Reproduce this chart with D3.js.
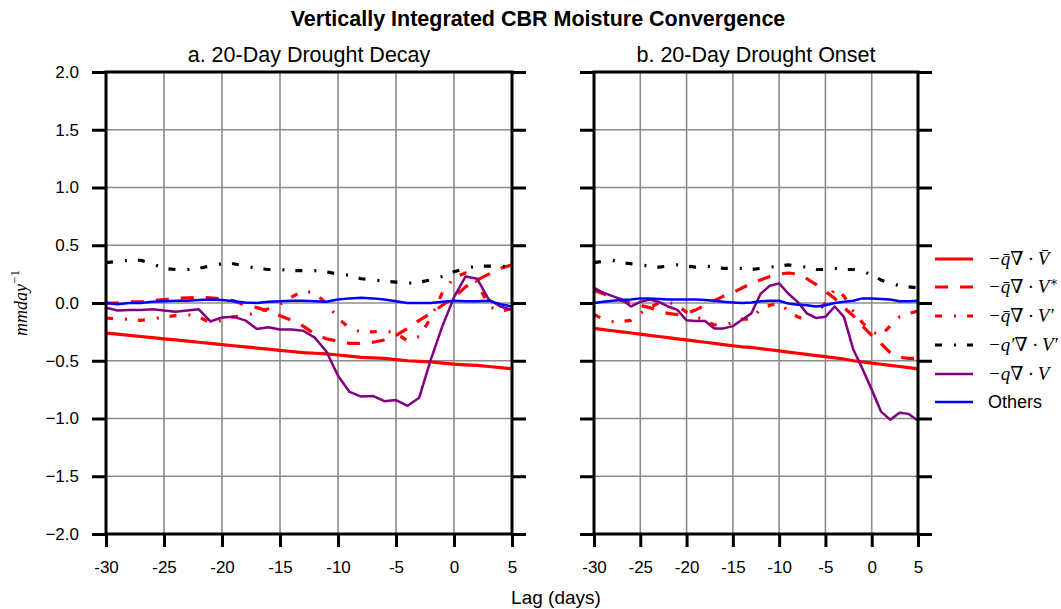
<!DOCTYPE html>
<html>
<head>
<meta charset="utf-8">
<script src="https://cdn.jsdelivr.net/npm/d3@7"></script>
<style>
  body { margin: 0; background: #fff; }
  text { font-family: "Liberation Sans", Arial, sans-serif; }
  .math { font-family: "Liberation Serif", "DejaVu Serif", serif; font-style: italic; }
</style>
</head>
<body>
<svg id="chart" width="1061" height="609"></svg>
<script>
// lag days -30 .. 5
const lags = d3.range(-30, 6)
const yTicks = [-2.0, -1.5, -1.0, -0.5, 0.0, 0.5, 1.0, 1.5, 2.0]
const xTicks = [-30, -25, -20, -15, -10, -5, 0, 5]

// a. 20-Day Drought Decay
const decayMean = [-0.26, -0.27, -0.28, -0.29, -0.30, -0.31, -0.32, -0.33, -0.34, -0.35, -0.36, -0.37, -0.38, -0.39, -0.40, -0.41, -0.42, -0.43,
  -0.435, -0.44, -0.45, -0.46, -0.47, -0.475, -0.48, -0.49, -0.50, -0.505, -0.51, -0.52, -0.53, -0.535, -0.54, -0.55, -0.56, -0.57]
const decayVstar = [0.0, 0.0, 0.01, 0.01, 0.02, 0.03, 0.04, 0.045, 0.05, 0.045, 0.035, 0.02, -0.02, -0.04, -0.07, -0.11, -0.15, -0.2,
  -0.27, -0.31, -0.33, -0.35, -0.35, -0.34, -0.32, -0.28, -0.22, -0.15, -0.09, -0.02, 0.05, 0.14, 0.2, 0.25, 0.3, 0.33]
const decayVprime = [-0.13, -0.14, -0.14, -0.15, -0.14, -0.12, -0.11, -0.10, -0.12, -0.17, -0.15, -0.12, -0.11, -0.08, -0.05, -0.01, 0.05, 0.11,
  0.08, 0.0, -0.13, -0.22, -0.25, -0.25, -0.24, -0.26, -0.33, -0.29, -0.13, 0.09, 0.22, 0.26, 0.18, -0.03, -0.07, -0.05]
const decayQpVp = [0.35, 0.36, 0.37, 0.37, 0.34, 0.30, 0.29, 0.29, 0.30, 0.32, 0.34, 0.34, 0.32, 0.30, 0.29, 0.29, 0.28, 0.28,
  0.28, 0.27, 0.25, 0.24, 0.21, 0.20, 0.19, 0.18, 0.17, 0.18, 0.20, 0.23, 0.27, 0.30, 0.32, 0.32, 0.32, 0.31]
const decayQdivV = [-0.04, -0.065, -0.06, -0.06, -0.055, -0.065, -0.075, -0.065, -0.055, -0.16, -0.125, -0.12, -0.15, -0.225, -0.21, -0.23, -0.23, -0.24,
  -0.30, -0.42, -0.63, -0.77, -0.81, -0.805, -0.85, -0.84, -0.89, -0.82, -0.49, -0.2, 0.05, 0.23, 0.21, 0.03, -0.03, -0.06]
const decayOthers = [0.0, -0.01, 0.0, 0.0, 0.01, 0.015, 0.02, 0.02, 0.025, 0.03, 0.025, 0.015, 0.005, 0.0, 0.01, 0.015, 0.02, 0.02,
  0.015, 0.01, 0.03, 0.04, 0.045, 0.04, 0.03, 0.015, 0.0, 0.0, 0.0, 0.01, 0.02, 0.015, 0.015, 0.02, -0.01, -0.03]

// b. 20-Day Drought Onset
const onsetMean = [-0.22, -0.23, -0.24, -0.25, -0.26, -0.27, -0.28, -0.29, -0.30, -0.31, -0.32, -0.33, -0.34, -0.35, -0.36, -0.37, -0.38, -0.385,
  -0.395, -0.405, -0.415, -0.425, -0.435, -0.445, -0.455, -0.465, -0.475, -0.485, -0.50, -0.51, -0.52, -0.53, -0.54, -0.55, -0.56, -0.57]
const onsetVstar = [0.11, 0.08, 0.05, 0.02, 0.0, -0.02, -0.04, -0.07, -0.09, -0.10, -0.09, -0.06, -0.02, 0.02, 0.06, 0.09, 0.13, 0.17,
  0.20, 0.23, 0.25, 0.26, 0.25, 0.21, 0.16, 0.10, 0.04, -0.04, -0.11, -0.20, -0.28, -0.35, -0.43, -0.47, -0.48, -0.48]
const onsetVprime = [-0.10, -0.14, -0.16, -0.16, -0.15, -0.09, -0.04, 0.0, 0.01, -0.02, -0.08, -0.12, -0.15, -0.19, -0.19, -0.17, -0.14, -0.14,
  -0.05, -0.02, 0.0, -0.07, -0.12, -0.15, -0.09, 0.0, 0.12, 0.06, -0.07, -0.17, -0.25, -0.28, -0.2, -0.12, -0.09, -0.07]
const onsetQpVp = [0.35, 0.36, 0.37, 0.35, 0.34, 0.33, 0.32, 0.31, 0.32, 0.33, 0.32, 0.31, 0.32, 0.31, 0.30, 0.30, 0.30, 0.29,
  0.30, 0.31, 0.32, 0.33, 0.32, 0.31, 0.29, 0.29, 0.30, 0.29, 0.29, 0.28, 0.24, 0.20, 0.17, 0.15, 0.14, 0.13]
const onsetQdivV = [0.13, 0.09, 0.06, 0.03, -0.03, 0.01, 0.03, 0.01, -0.03, -0.06, -0.15, -0.155, -0.156, -0.22, -0.22, -0.20, -0.145, -0.09,
  0.08, 0.15, 0.17, 0.08, 0.01, -0.09, -0.13, -0.12, -0.03, -0.12, -0.40, -0.57, -0.75, -0.94, -1.01, -0.95, -0.96, -1.02]
const onsetOthers = [0.0, 0.01, 0.02, 0.025, 0.03, 0.04, 0.04, 0.035, 0.03, 0.03, 0.03, 0.03, 0.025, 0.02, 0.01, 0.005, 0.0, 0.005,
  0.015, 0.02, 0.02, -0.005, -0.015, -0.02, -0.03, -0.02, 0.0, 0.01, 0.02, 0.04, 0.04, 0.035, 0.03, 0.015, 0.015, 0.02]

const styles = [
  { color: '#ff0000', width: 3.2, dash: null },
  { color: '#ff0000', width: 3.2, dash: '13,12' },
  { color: '#ff0000', width: 3.2, dash: '7,12,2,11' },
  { color: '#000000', width: 3.2, dash: '7,12,2,11' },
  { color: '#800080', width: 2.5, dash: null },
  { color: '#0000ff', width: 2.5, dash: null }
]

const svg = d3.select('#chart')

svg.append('text')
  .attr('x', 538).attr('y', 26)
  .attr('text-anchor', 'middle')
  .attr('font-size', 21.5).attr('font-weight', 'bold')
  .text('Vertically Integrated CBR Moisture Convergence')

const y = d3.scaleLinear().domain([-2, 2]).range([534, 72])

function panel(id, x0, x1, title, series, labels) {
  const x = d3.scaleLinear().domain([-30, 5]).range([x0, x1])
  const g = svg.append('g')

  g.append('clipPath').attr('id', 'clip' + id)
    .append('rect').attr('x', x0).attr('y', 72).attr('width', x1 - x0).attr('height', 534 - 72)

  // grid
  g.append('g').selectAll('line.gx')
    .data(xTicks.slice(1, -1))
    .join('line')
    .attr('x1', d => x(d)).attr('x2', d => x(d))
    .attr('y1', 72).attr('y2', 534)
    .attr('stroke', '#8c8c8c').attr('stroke-width', 1.6)
  g.append('g').selectAll('line.gy')
    .data(yTicks.slice(1, -1))
    .join('line')
    .attr('x1', x0).attr('x2', x1)
    .attr('y1', d => y(d)).attr('y2', d => y(d))
    .attr('stroke', '#8c8c8c').attr('stroke-width', 1.6)

  // data
  const line = d3.line().x((d, i) => x(lags[i])).y(d => y(d))
  const lg = g.append('g').attr('clip-path', `url(#clip${id})`)
  series.forEach((s, k) => {
    lg.append('path')
      .attr('d', line(s))
      .attr('fill', 'none')
      .attr('stroke', styles[k].color)
      .attr('stroke-width', styles[k].width)
      .attr('stroke-dasharray', styles[k].dash)
      .attr('stroke-linejoin', 'round')
  })

  // axes
  const leftAxis = d3.axisLeft(y).tickValues(yTicks).tickSize(14).tickSizeOuter(0)
    .tickPadding(13).tickFormat(labels ? d3.format('.1f') : '')
  const gl = g.append('g').attr('transform', `translate(${x0},0)`).call(leftAxis)
  const gr = g.append('g').attr('transform', `translate(${x1},0)`)
    .call(d3.axisRight(y).tickValues(yTicks).tickSize(14).tickSizeOuter(0).tickFormat(''))
  const gb = g.append('g').attr('transform', 'translate(0,534)')
    .call(d3.axisBottom(x).tickValues(xTicks).tickSize(13).tickSizeOuter(0).tickPadding(14).tickFormat(d => String(d)))
  ;[gl, gr, gb].forEach(a => {
    a.select('.domain').remove()
    a.selectAll('line').attr('stroke', '#000').attr('stroke-width', 3)
    a.selectAll('text').attr('font-size', 17).attr('fill', '#000')
      .attr('font-family', '"Liberation Sans", Arial, sans-serif')
  })

  // frame
  g.append('rect')
    .attr('x', x0).attr('y', 72).attr('width', x1 - x0).attr('height', 534 - 72)
    .attr('fill', 'none').attr('stroke', '#000').attr('stroke-width', 3)

  g.append('text')
    .attr('x', (x0 + x1) / 2).attr('y', 62)
    .attr('text-anchor', 'middle').attr('font-size', 21.5)
    .text(title)
}

panel('a', 106, 512, 'a. 20-Day Drought Decay',
  [decayMean, decayVstar, decayVprime, decayQpVp, decayQdivV, decayOthers], true)
panel('b', 594, 918, 'b. 20-Day Drought Onset',
  [onsetMean, onsetVstar, onsetVprime, onsetQpVp, onsetQdivV, onsetOthers], false)

svg.append('text')
  .attr('x', 556).attr('y', 604)
  .attr('text-anchor', 'middle').attr('font-size', 19)
  .text('Lag (days)')

const yl = svg.append('text')
  .attr('class', 'math')
  .attr('transform', 'translate(27,303) rotate(-90)')
  .attr('text-anchor', 'middle').attr('font-size', 18)
yl.append('tspan').text('mmday')
yl.append('tspan').attr('dy', -8).attr('font-size', 13).attr('font-style', 'normal').text('−1')

// legend
const legendNames = [
  ['−q̄∇ · V̄', null],
  ['−q̄∇ · V', '∗'],
  ['−q̄∇ · V′', null],
  ['−q′∇ · V′', null],
  ['−q∇ · V', null],
  ['Others', null]
]
const legendY = [259, 287, 316, 345, 374, 402]
const leg = svg.append('g')
legendNames.forEach((n, k) => {
  leg.append('line')
    .attr('x1', 935).attr('x2', 973)
    .attr('y1', legendY[k]).attr('y2', legendY[k])
    .attr('stroke', styles[k].color)
    .attr('stroke-width', styles[k].width)
    .attr('stroke-dasharray', styles[k].dash)
  const t = leg.append('text')
    .attr('x', 988).attr('y', legendY[k] + 6)
    .attr('font-size', 18)
  if (n[0] === 'Others') {
    t.text(n[0])
  } else {
    t.attr('class', 'math').attr('font-size', 19).text(n[0])
    if (n[1]) t.append('tspan').attr('dy', -7).attr('font-size', 13).attr('font-style', 'normal').text(n[1])
  }
})
</script>
</body>
</html>
